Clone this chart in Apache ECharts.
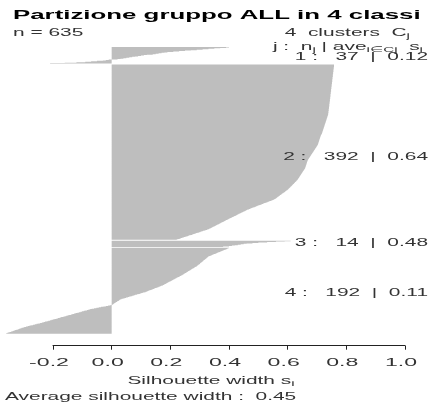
<!DOCTYPE html>
<html><head><meta charset="utf-8">
<script src="https://cdn.jsdelivr.net/npm/echarts@6/dist/echarts.min.js"></script>
<style>html,body{margin:0;padding:0;background:#fff}#c{width:441px;height:408px}</style>
</head><body><div id="c"></div>
<script>
// ---------- data ----------
const clusterNames = ['1', '2', '3', '4'];
const clusterSizes = [37, 392, 14, 192];
const clusterAverages = ['0.12', '0.64', '0.48', '0.11'];
const totalN = 635;
const averageWidth = '0.45';
const tickValues = [-0.2, 0, 0.2, 0.4, 0.6, 0.8, 1.0];
const tickLabels = ['-0.2', '0.0', '0.2', '0.4', '0.6', '0.8', '1.0'];

const c1 = [.40,.39,.37,.35,.33,.31,.29,.27,.25,.23,.21,.19,.18,.17,.16,.15,.14,.12,.11,.10,
  .09,.08,.07,.06,.05,.04,.03,.02,-.01,-.02,-.03,-.05,-.07,-.09,-.12,-.16,-.21];

const c2 = [
  .758,.758,.758,.758,.758,.758,.757,.757,.757,.757,.757,
  .756,.756,.756,.756,.756,.756,.755,.755,.755,.755,.755,
  .754,.754,.754,.754,.754,.754,.753,.753,.753,.753,.753,
  .752,.752,.752,.752,.752,.752,.751,.751,.751,.751,.751,
  .750,.750,.750,.750,.750,.750,.749,.749,.749,.749,.749,
  .748,.748,.748,.748,.748,.748,.747,.747,.747,.747,.747,
  .746,.746,.746,.746,.746,.746,.745,.745,.745,.745,.745,
  .744,.744,.744,.744,.744,.744,.743,.743,.743,.743,.743,
  .742,.742,.742,.742,.742,.742,.741,.741,.741,.741,.741,
  .740,.740,.740,.740,.740,.739,.739,.739,.739,.739,.738,.738,.738,.738,
  .737,.737,.736,.736,.735,.735,.734,.734,.733,.733,.732,.732,.731,.731,.730,.730,
  .729,.729,.728,.728,.727,.727,.726,.726,.725,.725,.724,.724,.723,.723,.722,.722,
  .721,.721,.720,.720,.719,.719,.718,.718,.717,.717,.716,.715,.714,
  .713,.713,.712,.712,.711,.711,.710,.710,.709,.709,.708,.708,.707,.707,.706,.706,
  .705,.705,.704,.704,.703,.703,.702,.701,.700,.699,.698,.697,.696,.695,.694,.693,.692,.691,
  .690,.689,.688,.687,.686,.685,.684,.683,.682,.681,.680,.679,.678,.677,.676,.675,.674,.673,.672,.671,.670,.669,
  .668,.668,.667,.667,.666,.666,.665,.665,.664,.664,.663,.663,.662,.662,.661,.661,.660,.660,.659,.658,.657,.656,
  .655,.654,.653,.652,.651,.650,.649,.648,.647,.646,.645,.644,.643,.642,.641,.640,.639,.638,.637,.636,.635,.634,
  .633,.631,.630,.628,.627,.625,.624,.622,.621,.619,.618,.616,.615,.613,.612,.610,.609,.607,.606,.604,.603,.601,
  .599,.597,.595,.593,.591,.589,.587,.585,.582,.580,.578,.576,.574,.572,.570,.568,.566,.564,.562,.560,.557,.555,
  .552,.548,.544,.540,.536,.532,.528,.524,.520,.516,.512,.508,.504,.500,.496,.492,.488,.484,.480,.476,.472,.468,
  .464,.461,.458,.455,.452,.449,.446,.442,.439,.436,.433,.430,.427,.424,.421,.418,.415,.411,.408,.405,.402,.399,
  .396,.393,.390,.387,.384,.381,.378,.375,.372,.369,.366,.363,.360,.357,.354,.351,.348,.345,.342,.339,.336,.333,
  .330,.325,.320,.316,.311,.306,.302,.297,.292,.288,.283,.278,.274,.269,.264,.260,.255,.250,.246,.241,.236,.232,.227,.222
];

const c3 = [.61,.59,.56,.53,.50,.48,.46,.45,.44,.43,.42,.41,.40,.38];

const c4 = [
  .400,.396,.393,.389,.385,.382,.378,.374,.370,.367,.363,.359,.356,.352,.348,.344,.341,.337,.333,
  .330,.328,.326,.324,.323,.321,.319,.317,.315,.313,.312,.310,.308,.306,.304,.302,.301,.299,.297,.295,.293,.291,
  .289,.286,.284,.281,.279,.276,.274,.271,.269,.266,.264,.261,.259,.256,.254,.251,.249,.246,.244,.241,.239,.236,
  .233,.230,.227,.224,.221,.218,.215,.212,.210,.207,.204,.201,.198,.195,.192,.189,.186,.184,.181,.178,.175,.172,
  .168,.164,.160,.156,.152,.148,.144,.140,.136,.132,.128,.124,.120,.116,.112,
  .106,.101,.096,.091,.086,.080,.075,.070,.065,.060,.055,.049,.044,.039,.034,
  .030,.027,.025,.023,.020,.018,.015,.013,.011,.008,.006,.004,.001,
  -.004,-.012,-.020,-.028,-.036,-.044,-.052,-.060,-.068,
  -.073,-.079,-.084,-.090,-.095,-.101,-.106,-.112,-.117,-.123,-.128,-.134,-.139,-.145,-.150,
  -.155,-.161,-.166,-.172,-.177,-.183,-.188,-.194,-.199,-.205,-.210,-.216,-.221,-.227,-.232,
  -.238,-.244,-.250,-.256,-.262,-.268,-.274,-.280,-.286,-.292,-.298,
  -.302,-.307,-.311,-.316,-.320,-.325,-.329,-.334,-.338,-.343,-.347,-.352,-.356,-.360
];

// ---------- build ----------
const clusters = [c1, c2, c3, c4];
const GAP = 2;
const values = [];
const cats = [];
clusters.forEach((c, k) => {
  if (k > 0) for (let g = 0; g < GAP; g++) values.push(null);
  c.forEach(v => values.push(v));
});
values.forEach((_, i) => cats.push(String(i)));

const chart = echarts.init(document.getElementById('c'), null, {renderer: 'canvas'});
const FONT = '"Liberation Sans", Arial, Helvetica, sans-serif';
const SX = 1.9;
const TXT = '#333';

chart.setOption({
  animation: false,
  backgroundColor: '#ffffff',
  grid: {left: 53, right: 36, top: 47, bottom: 74.3},
  xAxis: {
    type: 'value', min: -0.2, max: 1.0, interval: 0.2,
    offset: 12,
    axisLine: {show: true, lineStyle: {color: '#222', width: 1}},
    axisTick: {show: true, length: 4, lineStyle: {color: '#222', width: 1}},
    axisLabel: {show: false},
    splitLine: {show: false}
  },
  yAxis: {
    type: 'category', data: cats, inverse: true, show: false,
    axisLine: {show: false}, axisTick: {show: false}, axisLabel: {show: false}
  },
  series: [{
    type: 'bar',
    data: values,
    large: true,
    largeThreshold: 100,
    barCategoryGap: '0%',
    clip: false,
    silent: true,
    z: 2,
    itemStyle: {color: '#bebebe'}
  }]
});

function t(x, y, text, o) {
  o = o || {};
  return {
    type: 'text', x: x, y: y, scaleX: o.sx || SX, silent: true, z: 100, zlevel: 0,
    style: Object.assign({
      text: text,
      fontFamily: FONT, fontSize: o.size || 11, fontWeight: o.weight || 'normal',
      fill: o.fill || TXT, align: o.align || 'left', verticalAlign: 'middle'
    }, o.rich ? {rich: o.rich} : {})
  };
}
const subRich = {
  a: {fontFamily: FONT, fontSize: 11, fill: TXT, lineHeight: 14},
  s: {fontFamily: FONT, fontSize: 8, fill: TXT, lineHeight: 8, padding: [6, 0, 0, 0]}
};

const graphics = [];
graphics.push(t(13, 15, 'Partizione gruppo ALL in 4 classi', {size: 13.6, weight: 'bold', fill: '#000'}));
graphics.push(t(13, 33, 'n = ' + totalN));
graphics.push(t(410, 33, '{a|' + clusters.length + '  clusters  C}{s|j}', {align: 'right', rich: subRich}));
graphics.push(t(423, 47, '{a|j :  n}{s|j}{a| | ave}{s|i\u2208Cj}{a|  s}{s|i}', {align: 'right', rich: subRich}));
const labelY = [57, 157, 243, 293];
clusterNames.forEach((nm, k) => {
  graphics.push(t(428, labelY[k], nm + ' :   ' + clusterSizes[k] + '  |  ' + clusterAverages[k], {align: 'right'}));
});
tickValues.forEach((v, i) => {
  const px = chart.convertToPixel({xAxisIndex: 0}, v);
  graphics.push(t(px - 4, 363, tickLabels[i], {align: 'center', sx: 2.1}));
});
graphics.push(t(211, 381, '{a|Silhouette width s}{s|i}', {align: 'center', rich: subRich}));
graphics.push(t(5, 397, 'Average silhouette width :  ' + averageWidth));

chart.setOption({graphic: {elements: graphics}});
</script>
</body></html>
